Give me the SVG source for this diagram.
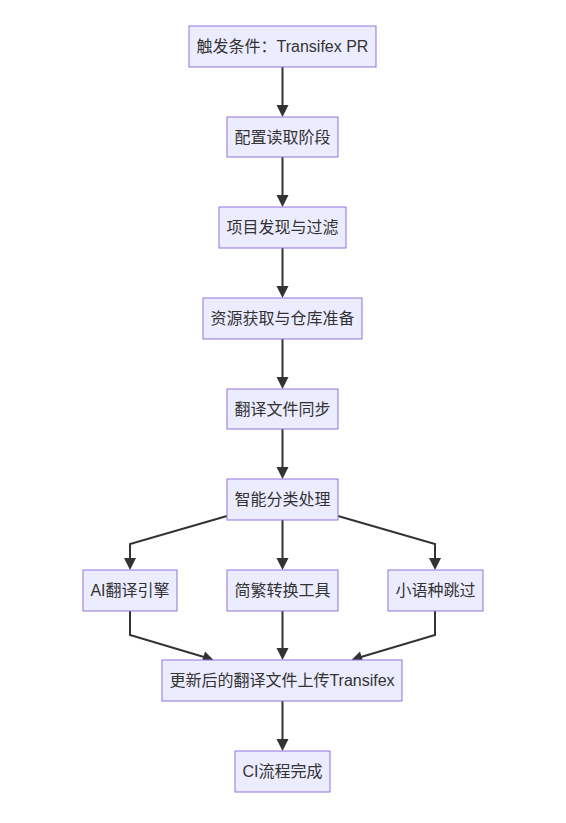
<svg xmlns="http://www.w3.org/2000/svg" width="566" height="823" viewBox="0 0 566 823">
<style>
.n rect{fill:#ECECFF;stroke:#9370DB;stroke-width:1}
.n text{font-family:"Liberation Sans","Noto Sans CJK SC",sans-serif;font-size:16px;fill:#333;text-anchor:middle;dominant-baseline:central}
.ln{fill:none;stroke:#333;stroke-width:2}
.hd{fill:#333}
</style>
<rect width="566" height="823" fill="#fff"/>
<g id="edges">
<g class="ln">
<path d="M282.5,67 V107"/>
<path d="M282.5,157 V197"/>
<path d="M282.5,248 V288"/>
<path d="M282.5,339 V379"/>
<path d="M282.5,429 V469"/>
<path d="M227,516 L130,544 V560"/>
<path d="M282.5,520 V560"/>
<path d="M338,516 L435,544 V560"/>
<path d="M130,611 V635 L204,657"/>
<path d="M282.5,611 V650"/>
<path d="M435,611 V635 L361,657"/>
<path d="M282.5,701 V741"/>
</g>
<g class="hd">
<path d="M276.5,105 L288.5,105 L282.5,117 z"/>
<path d="M276.5,195 L288.5,195 L282.5,207 z"/>
<path d="M276.5,286 L288.5,286 L282.5,298 z"/>
<path d="M276.5,377 L288.5,377 L282.5,389 z"/>
<path d="M276.5,467 L288.5,467 L282.5,479 z"/>
<path d="M124,558 L136,558 L130,570 z"/>
<path d="M276.5,558 L288.5,558 L282.5,570 z"/>
<path d="M429,558 L441,558 L435,570 z"/>
<path d="M276.5,648 L288.5,648 L282.5,660 z"/>
<path d="M276.5,739 L288.5,739 L282.5,751 z"/>
<path d="M201.5,663 L205,651.5 L214,660.5 z"/>
<path d="M363.5,663 L360,651.5 L351,660.5 z"/>
</g>
</g>
<g id="n1" class="n"><rect x="189" y="26" width="187" height="41"/><text x="282.5" y="46.5">触发条件：Transifex PR</text></g>
<g id="n2" class="n"><rect x="227" y="117" width="111" height="40"/><text x="282.5" y="137">配置读取阶段</text></g>
<g id="n3" class="n"><rect x="219" y="207" width="127" height="41"/><text x="282.5" y="227.5">项目发现与过滤</text></g>
<g id="n4" class="n"><rect x="203" y="298" width="159" height="41"/><text x="282.5" y="318.5">资源获取与仓库准备</text></g>
<g id="n5" class="n"><rect x="227" y="389" width="111" height="40"/><text x="282.5" y="409">翻译文件同步</text></g>
<g id="n6" class="n"><rect x="227" y="479" width="111" height="41"/><text x="282.5" y="499.5">智能分类处理</text></g>
<g id="n7" class="n"><rect x="83" y="570" width="94" height="41"/><text x="130" y="590.5">AI翻译引擎</text></g>
<g id="n8" class="n"><rect x="227" y="570" width="111" height="41"/><text x="282.5" y="590.5">简繁转换工具</text></g>
<g id="n9" class="n"><rect x="388" y="570" width="95" height="41"/><text x="435.5" y="590.5">小语种跳过</text></g>
<g id="n10" class="n"><rect x="162" y="660" width="240" height="41"/><text x="282" y="680.5">更新后的翻译文件上传Transifex</text></g>
<g id="n11" class="n"><rect x="235" y="751" width="95" height="41"/><text x="282.5" y="771.5">CI流程完成</text></g>
</svg>
